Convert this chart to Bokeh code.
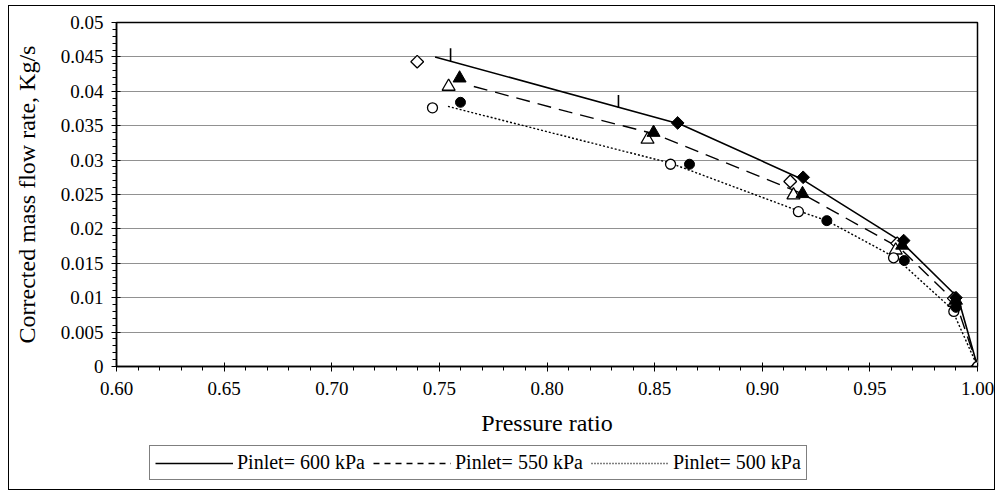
import numpy as np
from bokeh.plotting import figure
from bokeh.layouts import column
from bokeh.models import (FixedTicker, Legend, LegendItem, Range1d)
from bokeh.embed import file_html
from bokeh.resources import INLINE

# ---------------- data ----------------
# model lines
line600_x = [0.748, 0.862, 0.918, 0.964, 0.991, 1.000]
line600_y = [0.0450, 0.0352, 0.0273, 0.0183, 0.0100, 0.0000]
line550_x = [0.766, 0.810, 0.850, 0.918, 0.964, 0.990, 1.000]
line550_y = [0.0407, 0.0370, 0.0338, 0.0252, 0.0172, 0.0093, 0.0000]
line500_x = [0.754, 0.857, 0.917, 0.930, 0.962, 0.988, 1.000]
line500_y = [0.0378, 0.0296, 0.0226, 0.0212, 0.0158, 0.0084, 0.0000]

# vertical bar marks on the 600 kPa line
bar600_x = [0.7552, 0.8332]
bar600_y = [0.0453, 0.0385]

# measured points, open markers
open600_x = [0.7397, 0.913, 0.9627, 0.989, 1.000]
open600_y = [0.0443, 0.0269, 0.0179, 0.0099, 0.0000]
open550_x = [0.7543, 0.8467, 0.9145, 0.962, 0.9893, 1.000]
open550_y = [0.0407, 0.0330, 0.0249, 0.0169, 0.0093, 0.0000]
open500_x = [0.7468, 0.8574, 0.9168, 0.961, 0.989, 1.000]
open500_y = [0.0376, 0.0294, 0.0225, 0.0158, 0.0080, 0.0000]

# measured points, filled markers
fill600_x = [0.8607, 0.919, 0.9657, 0.990]
fill600_y = [0.0354, 0.0275, 0.0183, 0.0100]
fill550_x = [0.7594, 0.8495, 0.9187, 0.965, 0.990]
fill550_y = [0.0419, 0.0340, 0.0251, 0.0176, 0.0096]
fill500_x = [0.7598, 0.8662, 0.930, 0.966, 0.990]
fill500_y = [0.0384, 0.0294, 0.0212, 0.0154, 0.0086]

x_ticks = [0.60, 0.65, 0.70, 0.75, 0.80, 0.85, 0.90, 0.95, 1.00]
x_tick_labels = ["0.60", "0.65", "0.70", "0.75", "0.80", "0.85", "0.90", "0.95", "1.00"]
y_ticks = [0.0, 0.005, 0.01, 0.015, 0.02, 0.025, 0.03, 0.035, 0.04, 0.045, 0.05]
y_tick_labels = ["0", "0.005", "0.01", "0.015", "0.02", "0.025", "0.03", "0.035", "0.04", "0.045", "0.05"]

legend_labels = ["Pinlet= 600 kPa", "Pinlet= 550 kPa", "Pinlet= 500 kPa"]

FONT = "Liberation Serif"

# ---------------- main figure ----------------
p = figure(width=985, height=438, output_backend="svg", toolbar_location=None,
           x_range=Range1d(0.60, 1.00), y_range=Range1d(0.0, 0.05),
           min_border_left=107, min_border_right=17, min_border_top=16,
           min_border_bottom=78)
p.background_fill_color = "white"
p.border_fill_color = "white"
p.outline_line_color = "black"
p.outline_line_width = 1.5

# grid
p.xgrid.visible = False
p.ygrid.ticker = FixedTicker(ticks=y_ticks)
p.ygrid.grid_line_color = "#222222"
p.ygrid.grid_line_dash = "1 1"
p.ygrid.grid_line_width = 1

# axes
minor_x = [round(v, 3) for v in np.arange(0.60, 1.0001, 0.01)]
minor_y = [round(v, 4) for v in np.arange(0.0, 0.05001, 0.001)]
p.xaxis.ticker = FixedTicker(ticks=x_ticks, minor_ticks=minor_x)
p.yaxis.ticker = FixedTicker(ticks=y_ticks, minor_ticks=minor_y)
p.xaxis.major_label_overrides = {t: l for t, l in zip(x_ticks, x_tick_labels)}
p.yaxis.major_label_overrides = {t: l for t, l in zip(y_ticks, y_tick_labels)}
for ax in (p.xaxis, p.yaxis):
    ax.axis_line_color = "black"
    ax.axis_line_width = 1.5
    ax.major_tick_line_color = "black"
    ax.minor_tick_line_color = "black"
    ax.major_tick_in = 4
    ax.major_tick_out = 5
    ax.minor_tick_in = 0
    ax.minor_tick_out = 4
    ax.major_label_text_font = FONT
    ax.major_label_text_font_size = "19px"
    ax.major_label_text_color = "black"
    ax.axis_label_text_font = FONT
    ax.axis_label_text_font_size = "24px"
    ax.axis_label_text_font_style = "normal"
    ax.axis_label_text_color = "black"
p.xaxis.axis_label = "Pressure ratio"
p.yaxis.axis_label = "Corrected mass flow rate, Kg/s"
p.xaxis.major_label_standoff = 10
p.yaxis.major_label_standoff = 8
p.xaxis.axis_label_standoff = 12
p.yaxis.axis_label_standoff = 18

# lines
LW = dict(line_color="black")
p.line(line600_x, line600_y, line_width=1.6, **LW)
p.line(line550_x, line550_y, line_width=1.4, line_dash="14 8", **LW)
p.line(line500_x, line500_y, line_width=1.4, line_dash="2 2", **LW)

p.scatter(bar600_x, bar600_y, marker="dash", angle=np.pi / 2, size=13,
          line_color="black", line_width=1.6)

# markers
p.scatter(open600_x, open600_y, marker="square", angle=np.pi / 4, size=9,
          fill_color="white", line_color="black", line_width=1.3)
p.scatter(open550_x, open550_y, marker="triangle", size=13, fill_color="white",
          line_color="black", line_width=1.3)
p.scatter(open500_x, open500_y, marker="circle", size=10, fill_color="white",
          line_color="black", line_width=1.3)
p.scatter(fill600_x, fill600_y, marker="square", angle=np.pi / 4, size=9,
          fill_color="black", line_color="black")
p.scatter(fill550_x, fill550_y, marker="triangle", size=13, fill_color="black",
          line_color="black")
p.scatter(fill500_x, fill500_y, marker="circle", size=10, fill_color="black",
          line_color="black")

# ---------------- legend strip ----------------
# The series are drawn again here outside the visible range, only to feed the legend.
q = figure(width=985, height=45, output_backend="svg", toolbar_location=None,
           x_range=Range1d(10, 11), y_range=Range1d(10, 11),
           x_axis_type=None, y_axis_type=None,
           min_border_left=0, min_border_right=0, min_border_top=0, min_border_bottom=0)
q.outline_line_color = None
q.xgrid.visible = False
q.ygrid.visible = False
q.background_fill_color = "white"
q.border_fill_color = "white"
g600 = q.line(line600_x, line600_y, line_width=1.6, **LW)
g550 = q.line(line550_x, line550_y, line_width=1.4, line_dash="6 5", **LW)
g500 = q.line(line500_x, line500_y, line_width=1.4, line_dash="1 2", **LW)

legend = Legend(items=[LegendItem(label=legend_labels[0], renderers=[g600]),
                       LegendItem(label=legend_labels[1], renderers=[g550]),
                       LegendItem(label=legend_labels[2], renderers=[g500])],
                orientation="horizontal", location=(33, 9))
legend.label_text_font = FONT
legend.label_text_font_size = "20px"
legend.label_text_color = "black"
legend.glyph_width = 78
legend.label_standoff = 4
legend.spacing = 8
legend.padding = 5
legend.margin = 0
legend.border_line_color = "black"
legend.border_line_width = 1.3
legend.background_fill_alpha = 1.0
q.add_layout(legend, "center")

lay = column(p, q, spacing=0)
lay.margin = (5, 0, 0, 8)
lay.styles = {"border": "1px solid black"}

open("out.html", "w").write(file_html(lay, INLINE))
